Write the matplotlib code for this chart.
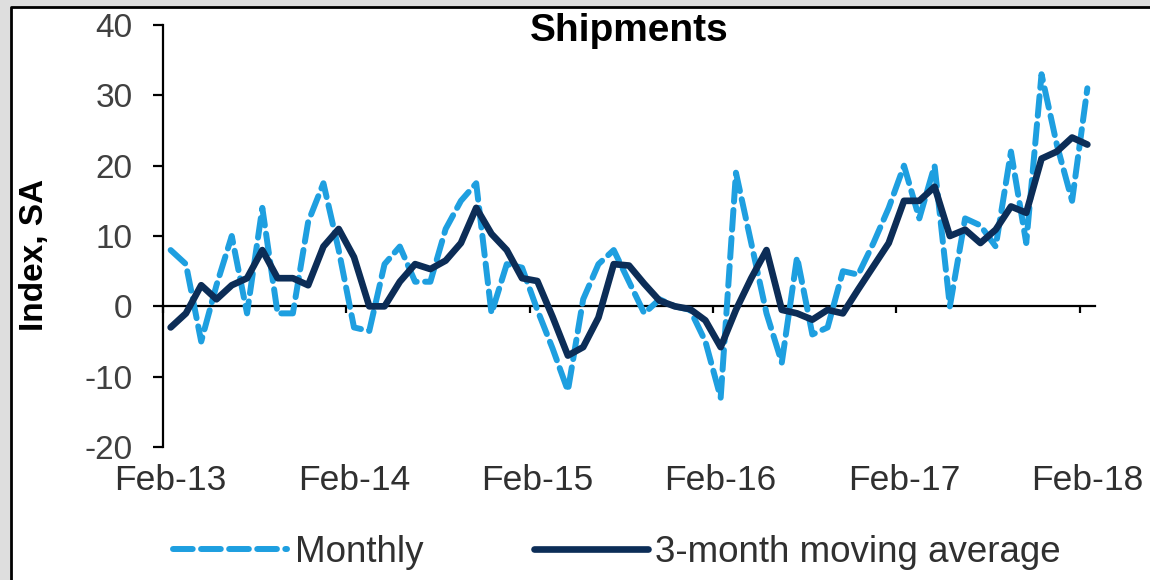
import matplotlib
matplotlib.use("Agg")
import matplotlib.pyplot as plt
from matplotlib.patches import Rectangle

# monthly shipments index, Feb-13 .. Feb-18
monthly = [8, 6, -5, 3, 10, -1, 14, -1, -1, 12, 17.5, 8, -3, -3.5, 6, 8.5,
           3.5, 3.5, 11, 15, 17.5, -1, 6, 5.5, -0.5, -6, -12, 1, 6, 8, 3.5,
           -1, 1, 0, -0.5, -5, -13, 19, 9, -1, -8, 7, -4, -3, 5, 4.5, 9, 14,
           20, 12.5, 20, 0, 12.5, 11.5, 8.5, 22, 9, 33, 23, 15, 31]
moving_avg = [-3, -1, 3, 1, 3, 4, 8, 4, 4, 3, 8.5, 11, 7, 0, 0, 3.5, 6, 5.3,
              6.5, 9, 14, 10.3, 8, 4, 3.6, -1.5, -7, -5.8, -1.6, 6, 5.8, 3.2,
              0.8, 0, -0.4, -2, -5.8, -0.5, 4, 8, -0.5, -1, -1.9, -0.5, -1,
              2.4, 5.7, 9, 15, 15, 17, 10, 10.9, 9, 10.9, 14.2, 13.3, 21, 22,
              24, 23]
year_labels = ["Feb-13", "Feb-14", "Feb-15", "Feb-16", "Feb-17", "Feb-18"]

plt.rcParams['font.family'] = ['Liberation Sans', 'DejaVu Sans']
plt.rcParams['axes.unicode_minus'] = False

fig = plt.figure(figsize=(11.5, 5.8), dpi=100, facecolor='#dedede')
# white panel with a dark edge on the left and top
fig.patches.append(Rectangle((11 / 1150, 0), 1.0, 1 - 7 / 580,
                             transform=fig.transFigure, facecolor='white',
                             edgecolor='none', zorder=-2))
fig.lines.append(plt.Line2D([11 / 1150, 11 / 1150, 1.0], [0, 1 - 7 / 580, 1 - 7 / 580],
                            transform=fig.transFigure, color='black', lw=2, zorder=-1))

ax = fig.add_axes([163 / 1150, 1 - 447 / 580, (1095 - 163) / 1150, (447 - 25) / 580])
ax.set_facecolor('none')
ax.set_zorder(2)

x = list(range(len(monthly)))
ax.plot(x, monthly, color='#1e9fe0', lw=4.3, dashes=(3.3, 1.4),
        dash_capstyle='round', label='Monthly', zorder=3)
ax.plot(x, moving_avg, color='#0c2d57', lw=4.8, solid_capstyle='round',
        solid_joinstyle='round', label='3-month moving average', zorder=4)

ax.set_xlim(-0.5, 60.5)
ax.set_ylim(-20, 40)
ax.set_yticks(range(-20, 41, 10))

for s in ['top', 'right', 'bottom']:
    ax.spines[s].set_visible(False)
ax.spines['left'].set_linewidth(1.6)
ax.tick_params(axis='y', direction='out', length=7, width=1.6, pad=15,
               labelsize=24, labelcolor='#404040')

# labels at the bottom, under the first month of each year
ax.set_xticks(range(0, 61, 12))
ax.set_xticklabels(year_labels)
ax.tick_params(axis='x', length=0, pad=12, labelsize=25.5, labelcolor='#303030')

# axis line with year tick marks at zero
sec = ax.secondary_xaxis(20 / 60)
sec.set_xticks([k - 0.5 for k in range(0, 61, 12)])
sec.tick_params(axis='x', direction='out', length=5, width=1.6, labelbottom=False)
sec.spines['bottom'].set_linewidth(1.6)

ax.text(0.5, (447 - 31) / 422, 'Shipments', transform=ax.transAxes,
        fontsize=28, fontweight='bold', ha='center', va='center')
fig.text(35 / 1150, 1 - 255 / 580, 'Index, SA', rotation=90, fontsize=24,
         fontweight='bold', ha='center', va='center')

fig.legend(loc='center', bbox_to_anchor=(617 / 1150, 1 - 552 / 580), ncol=2,
           frameon=False, fontsize=26.5, handlelength=3.1, handletextpad=0.2,
           columnspacing=3.0, labelcolor='#303030')

fig.savefig('out.png', dpi=100, facecolor=fig.get_facecolor())
